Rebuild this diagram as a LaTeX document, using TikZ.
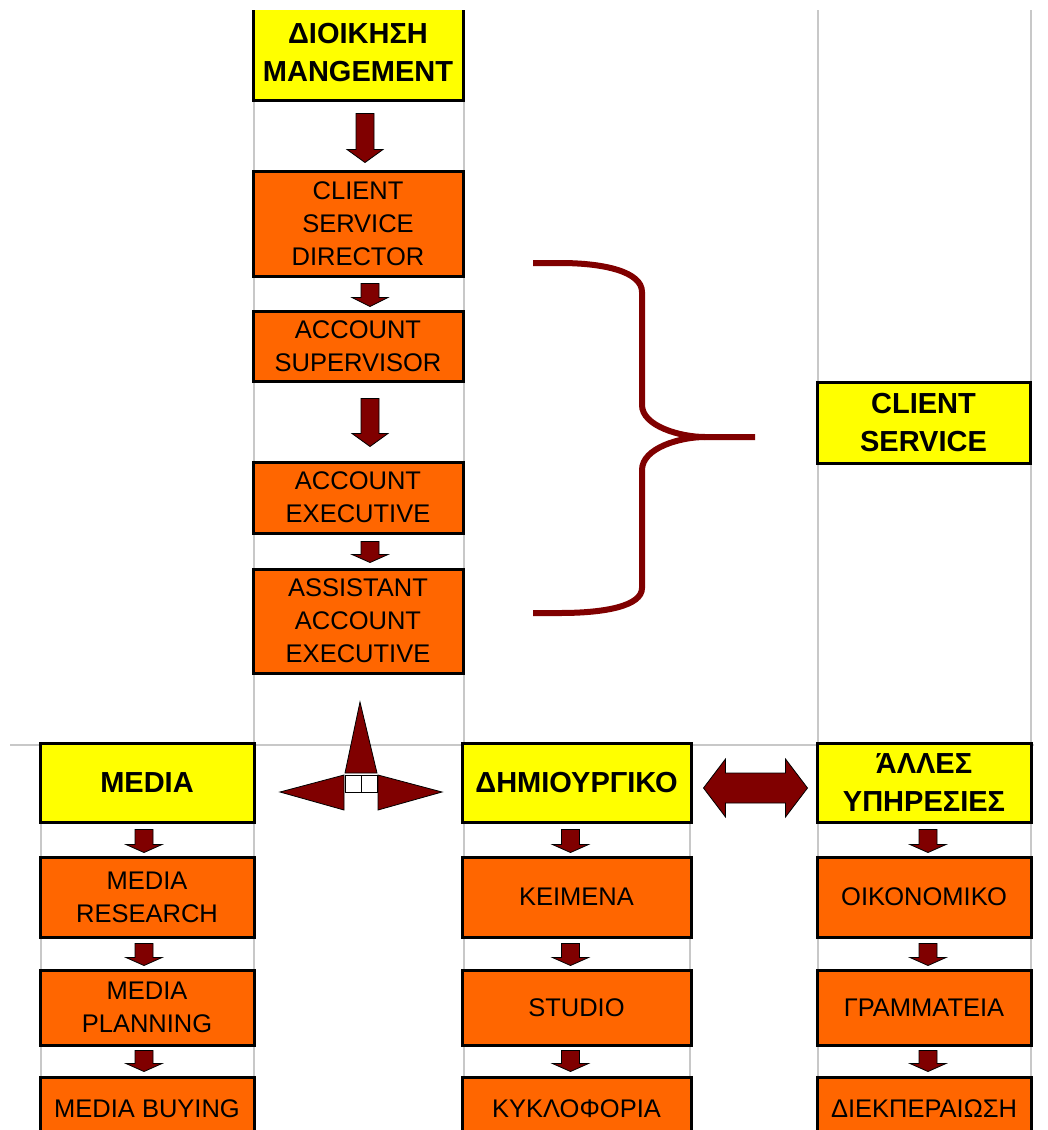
\documentclass[tikz,border=0pt]{standalone}
\usepackage{fontspec}
\setmainfont{Liberation Sans}
\usetikzlibrary{calc}
\definecolor{boxyellow}{HTML}{FFFF00}
\definecolor{boxorange}{HTML}{FF6600}
\definecolor{arrowred}{HTML}{800000}
\definecolor{gridgray}{HTML}{C8C8C8}
\tikzset{
  ybox/.style={draw=black, line width=3pt, fill=boxyellow, align=center, inner sep=0pt,
    font=\bfseries\fontsize{29}{38}\selectfont},
  obox/.style={draw=black, line width=3pt, fill=boxorange, align=center, inner sep=0pt,
    font=\fontsize{25.5}{33}\selectfont},
  blockarrow/.style={fill=arrowred, draw=black, line width=0.8pt, line join=miter},
  gridline/.style={draw=gridgray, line width=1.5pt},
  bracestyle/.style={draw=arrowred, line width=6pt},
}
% from node, to node, x offset, top gap, bottom gap, head length
\newcommand{\vblock}[6]{%
  \draw[blockarrow] let \p1=($(#1.south)+(#3,#4)$), \p2=($(#2.north)+(#3,-#5)$) in
    (\x1-9pt,\y1) -- (\x1+9pt,\y1) -- (\x1+9pt,\y2+#6pt) -- (\x1+18pt,\y2+#6pt)
    -- (\x1,\y2) -- (\x1-18pt,\y2+#6pt) -- (\x1-9pt,\y2+#6pt) -- cycle;}
\begin{document}
\begin{tikzpicture}[x=1pt,y=-1pt]
\useasboundingbox (0,0) rectangle (1048,1130);
\clip (0,10) rectangle (1048,1130);
% grid lines
\draw[gridline] (254,10) -- (254,1130);
\draw[gridline] (464,10) -- (464,1130);
\draw[gridline] (818,10) -- (818,1130);
\draw[gridline] (1031,10) -- (1031,1130);
\draw[gridline] (41,745) -- (41,1130);
\draw[gridline] (690,745) -- (690,1130);
\draw[gridline] (10,745) -- (1034,745);
% top column
\node[ybox, minimum width=210pt, minimum height=95pt] (dio) at (358,52.5) {ΔΙΟΙΚΗΣΗ\\MANGEMENT};
\node[obox, minimum width=210pt, minimum height=105pt] (csd) at (358,223.5) {CLIENT\\SERVICE\\DIRECTOR};
\node[obox, minimum width=210pt, minimum height=70pt] (as) at (358,346) {ACCOUNT\\SUPERVISOR};
\node[obox, minimum width=210pt, minimum height=71pt] (ae) at (358,497.5) {ACCOUNT\\EXECUTIVE};
\node[obox, minimum width=210pt, minimum height=104pt] (aae) at (358,621) {ASSISTANT\\ACCOUNT\\EXECUTIVE};
\node[ybox, minimum width=213pt, minimum height=81pt] (cs) at (923.5,422.5) {CLIENT\\SERVICE};
% left column
\node[ybox, minimum width=214pt, minimum height=79pt] (media) at (147,782.5) {MEDIA};
\node[obox, minimum width=214pt, minimum height=80pt] (mr) at (147,897) {MEDIA\\RESEARCH};
\node[obox, minimum width=214pt, minimum height=75pt] (mp) at (147,1007.5) {MEDIA\\PLANNING};
\node[obox, minimum width=214pt, minimum height=63pt] (mb) at (147,1108.5) {MEDIA BUYING};
% creative column
\node[ybox, minimum width=229pt, minimum height=79pt] (dim) at (576.5,782.5) {ΔΗΜΙΟΥΡΓΙΚΟ};
\node[obox, minimum width=229pt, minimum height=80pt] (keim) at (576.5,897) {ΚΕΙΜΕΝΑ};
\node[obox, minimum width=229pt, minimum height=75pt] (studio) at (576.5,1007.5) {STUDIO};
\node[obox, minimum width=229pt, minimum height=63pt] (kykl) at (576.5,1108.5) {ΚΥΚΛΟΦΟΡΙΑ};
% right column
\node[ybox, minimum width=214pt, minimum height=79pt] (alles) at (924,782.5) {ΆΛΛΕΣ\\ΥΠΗΡΕΣΙΕΣ};
\node[obox, minimum width=214pt, minimum height=80pt] (oik) at (924,897) {ΟΙΚΟΝΟΜΙΚΟ};
\node[obox, minimum width=214pt, minimum height=75pt] (gram) at (924,1007.5) {ΓΡΑΜΜΑΤΕΙΑ};
\node[obox, minimum width=214pt, minimum height=63pt] (diek) at (924,1108.5) {ΔΙΕΚΠΕΡΑΙΩΣΗ};
% arrows top column
\vblock{dio}{csd}{7}{12}{7}{13}
\vblock{csd}{as}{12}{6}{3}{9}
\vblock{as}{ae}{12}{16}{14}{13}
\vblock{ae}{aae}{12}{7}{5}{8}
% arrows bottom columns
\vblock{media}{mr}{-3}{6}{3}{8}
\vblock{mr}{mp}{-3}{5}{3}{8}
\vblock{mp}{mb}{-3}{4}{4}{8}
\vblock{dim}{keim}{-6}{6}{3}{8}
\vblock{keim}{studio}{-6}{5}{3}{8}
\vblock{studio}{kykl}{-6}{4}{4}{8}
\vblock{alles}{oik}{4}{6}{3}{8}
\vblock{oik}{gram}{4}{5}{3}{8}
\vblock{gram}{diek}{4}{4}{4}{8}
% brace
\draw[bracestyle] (533,263) -- (560,263) .. controls (605,263) and (642,272) .. (642,292)
  -- (642,405) .. controls (642,426) and (680,437) .. (705,437) -- (755,437);
\draw[bracestyle] (705,437) .. controls (680,437) and (642,448) .. (642,470)
  -- (642,588) .. controls (642,606) and (605,613) .. (560,613) -- (533,613);
% three-way arrow
\draw[blockarrow] (360,702) -- (377,773) -- (345,773) -- cycle;
\draw[blockarrow] (280,792) -- (344,775) -- (344,810) -- cycle;
\draw[blockarrow] (442,792) -- (378,775) -- (378,810) -- cycle;
\draw[black, line width=0.8pt, fill=white] (345,775) rectangle (377,792);
\draw[black, line width=0.8pt] (361,775) -- (361,792);
% double arrow
\draw[blockarrow] let \p1=($(dim.east)+(11,5.5)$), \p2=($(alles.west)+(-8,5.5)$) in
  (\x1,\y1) -- (\x1+22pt,\y1+29pt) -- (\x1+22pt,\y1+15pt) -- (\x2-22pt,\y1+15pt)
  -- (\x2-22pt,\y1+29pt) -- (\x2,\y1) -- (\x2-22pt,\y1-29pt) -- (\x2-22pt,\y1-15pt)
  -- (\x1+22pt,\y1-15pt) -- (\x1+22pt,\y1-29pt) -- cycle;
\end{tikzpicture}
\end{document}
